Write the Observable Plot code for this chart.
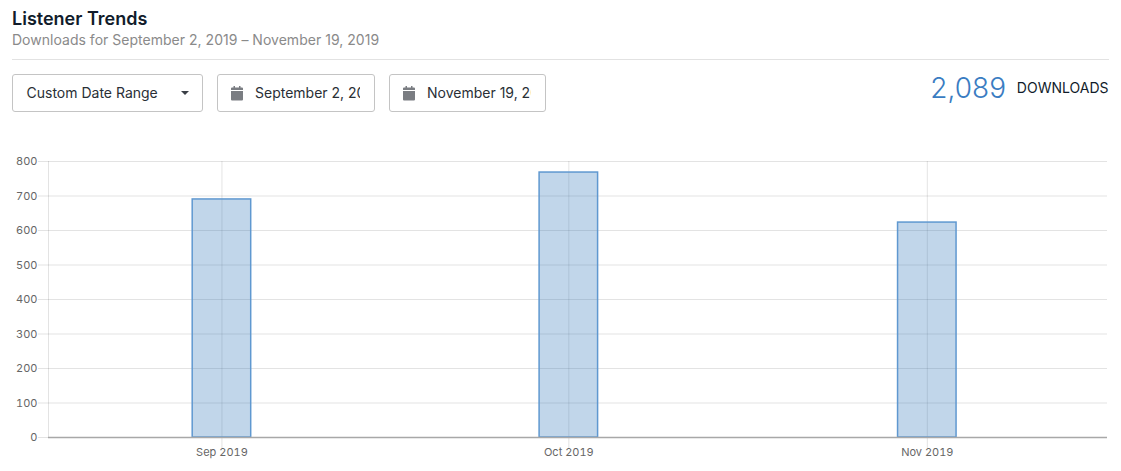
<!DOCTYPE html>
<html><head><meta charset="utf-8">
<script src="https://cdn.jsdelivr.net/npm/d3@7"></script>
<script src="https://cdn.jsdelivr.net/npm/@observablehq/plot@0.6"></script>
<style>
html,body{margin:0;padding:0;background:#fff;font-family:Inter,"Noto Sans",sans-serif;}
body{position:relative;width:1121px;height:471px;overflow:hidden;}
.abs{position:absolute;white-space:nowrap;}
#title{left:12px;top:9px;font-size:18px;font-weight:600;line-height:20px;color:#111c2b;}
#sub{left:12px;top:30px;font-size:14px;line-height:20px;color:#8a8a8a;letter-spacing:.02px;}
#rule{left:12px;top:59px;width:1097px;height:1px;background:#e2e2e2;}
.box{box-sizing:border-box;top:74px;height:38px;border:1px solid #c4c4c4;border-radius:3px;background:#fff;font-size:14px;line-height:36px;color:#2a2f36;overflow:hidden;}
.clip{position:absolute;top:0;overflow:hidden;height:36px;}
.icon{position:absolute;top:11px;}
#caret{position:absolute;left:168px;top:16px;width:0;height:0;border-left:4px solid transparent;border-right:4px solid transparent;border-top:4px solid #3a3f46;}
#total{right:115px;top:71px;font-size:28px;line-height:34px;color:#3a7cc2;font-weight:300;}
#unit{right:12.5px;top:78px;font-size:14px;line-height:20px;color:#111c2b;}
#chart{left:0;top:150px;}
</style></head><body>
<div class="abs" id="title"></div>
<div class="abs" id="sub"></div>
<div class="abs" id="rule"></div>
<div class="abs box" style="left:12px;width:191px"><span style="position:absolute;left:13.5px" id="range"></span><div id="caret"></div></div>
<div class="abs box" style="left:217px;width:158px">
<svg class="icon" style="left:12px" width="14" height="15" viewBox="0 0 14 15"><path fill="#7a7d82" d="M1 5h12v8.5a1 1 0 0 1-1 1H2a1 1 0 0 1-1-1zM1 2.5a1 1 0 0 1 1-1h1.5V0h1.5v1.5h4V0h1.5v1.5H12a1 1 0 0 1 1 1V4H1z"/></svg>
<div class="clip" style="left:37px;width:105px" id="d1"></div></div>
<div class="abs box" style="left:389px;width:157px">
<svg class="icon" style="left:12px" width="14" height="15" viewBox="0 0 14 15"><path fill="#7a7d82" d="M1 5h12v8.5a1 1 0 0 1-1 1H2a1 1 0 0 1-1-1zM1 2.5a1 1 0 0 1 1-1h1.5V0h1.5v1.5h4V0h1.5v1.5H12a1 1 0 0 1 1 1V4H1z"/></svg>
<div class="clip" style="left:37px;width:104px" id="d2"></div></div>
<div class="abs" id="total"></div>
<div class="abs" id="unit"></div>
<div class="abs" id="chart"></div>
<script>
const months = ["2019-09-01","2019-10-01","2019-11-01"];
const monthLabels = ["Sep 2019","Oct 2019","Nov 2019"];
const downloads = [690,768,623];
const totalDownloads = 2089;
const yTicks = [0,100,200,300,400,500,600,700,800];

document.getElementById("title").textContent = "Listener Trends";
document.getElementById("sub").textContent = "Downloads for September 2, 2019 – November 19, 2019";
document.getElementById("range").textContent = "Custom Date Range";
document.getElementById("d1").textContent = "September 2, 2019";
document.getElementById("d2").textContent = "November 19, 2019";
document.getElementById("total").textContent = d3.format(",")(totalDownloads);
document.getElementById("unit").textContent = "DOWNLOADS";

const dates = months.map(d => new Date(d + "T00:00:00Z"));
const rows = dates.map((d,i) => ({date:d, value:downloads[i]}));
const domainStart = new Date("2019-08-17T00:00:00Z");
const domainEnd = new Date("2019-11-16T14:00:00Z");

const chart = Plot.plot({
  width:1121, height:316,
  marginLeft:48, marginRight:14, marginTop:11, marginBottom:29,
  style:{fontFamily:"Inter, 'Noto Sans', sans-serif", fontSize:"11px", color:"#666", background:"transparent"},
  x:{type:"utc", domain:[domainStart,domainEnd], label:null},
  y:{domain:[0,800], label:null},
  marks:[
    Plot.ruleY(yTicks.filter(d=>d>0), {stroke:"#000", strokeOpacity:0.11}),
    Plot.ruleX([domainStart], {stroke:"#000", strokeOpacity:0.11}),
    Plot.tickX(dates, {x:d=>d, y1:800, y2:0, stroke:"#000", strokeOpacity:0.11}),
    Plot.rect(rows, {x1:"date", x2:"date", y1:0, y2:"value", insetLeft:-29.25, insetRight:-29.25,
      fill:"#3276b8", fillOpacity:0.3, stroke:"#5f98d0", strokeWidth:1.5}),
    Plot.axisY({ticks:yTicks, tickSize:10, tickPadding:1, label:null, stroke:"#e3e3e3", fill:"#666", strokeOpacity:1}),
    Plot.axisX({ticks:dates, tickSize:11, tickPadding:0, tickFormat:(d)=>monthLabels[dates.findIndex(v=>+v===+d)], label:null, stroke:"#e3e3e3", fill:"#666", strokeOpacity:1}),
    Plot.ruleY([0], {stroke:"#a8a8a8", strokeWidth:1.6, strokeOpacity:1})
  ]
});
document.getElementById("chart").appendChild(chart);
</script>
</body></html>
